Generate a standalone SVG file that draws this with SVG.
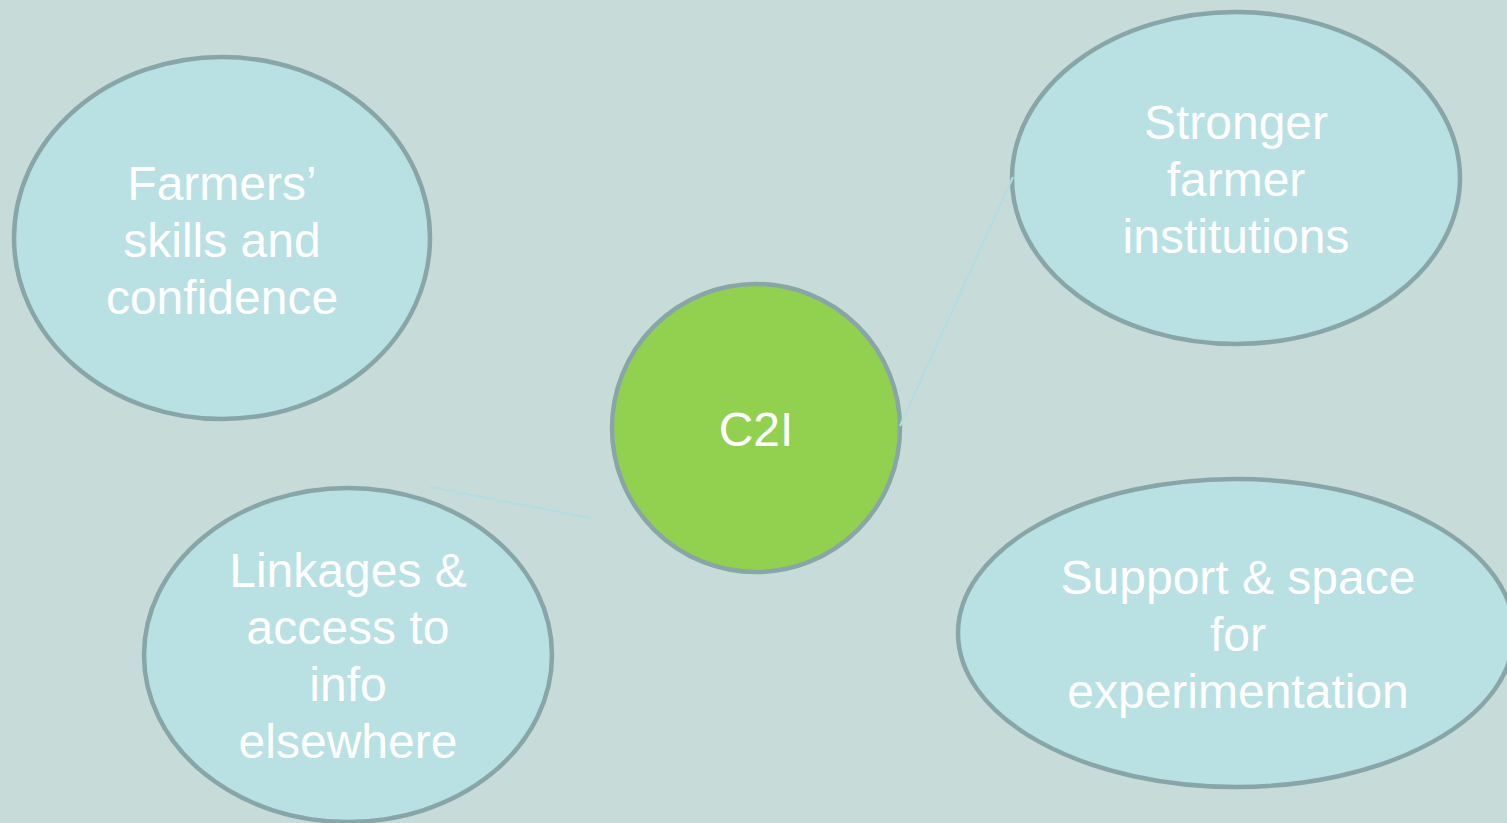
<svg xmlns="http://www.w3.org/2000/svg" width="1507" height="823" viewBox="0 0 1507 823">
<style>
.bub{fill:#b9e0e3;stroke:#88a6a7;stroke-width:4.5}
.hub{fill:#92d050;stroke:#88a6a7;stroke-width:4.5}
.lbl{font-family:"Liberation Sans",Arial,sans-serif;font-size:48px;fill:#ffffff;text-anchor:middle}
.con{stroke:#b3dde3;stroke-width:2;fill:none}
</style>
<rect width="1507" height="823" fill="#c7dcd9"/>
<g id="farmers">
<ellipse class="bub" cx="222" cy="238" rx="208" ry="181"/>
<text class="lbl" x="222" y="200">Farmers’</text>
<text class="lbl" x="222" y="257">skills and</text>
<text class="lbl" x="222" y="314">confidence</text>
</g>
<g id="stronger">
<ellipse class="bub" cx="1236" cy="178" rx="224" ry="166"/>
<text class="lbl" x="1236" y="139">Stronger</text>
<text class="lbl" x="1236" y="196">farmer</text>
<text class="lbl" x="1236" y="253">institutions</text>
</g>
<g id="c2i">
<ellipse class="hub" cx="756" cy="428" rx="144" ry="144"/>
<text class="lbl" x="756" y="446">C2I</text>
</g>
<g id="linkages">
<ellipse class="bub" cx="348" cy="655" rx="204" ry="167"/>
<text class="lbl" x="348" y="587">Linkages &amp;</text>
<text class="lbl" x="348" y="644">access to</text>
<text class="lbl" x="348" y="701">info</text>
<text class="lbl" x="348" y="758">elsewhere</text>
</g>
<g id="support">
<ellipse class="bub" cx="1236" cy="633" rx="278" ry="154"/>
<text class="lbl" x="1238" y="594">Support &amp; space</text>
<text class="lbl" x="1238" y="651">for</text>
<text class="lbl" x="1238" y="708">experimentation</text>
</g>
<g id="connectors">
<line class="con" x1="430" y1="487" x2="590" y2="518"/>
<line class="con" x1="900" y1="426" x2="1013" y2="177"/>
</g>
</svg>
